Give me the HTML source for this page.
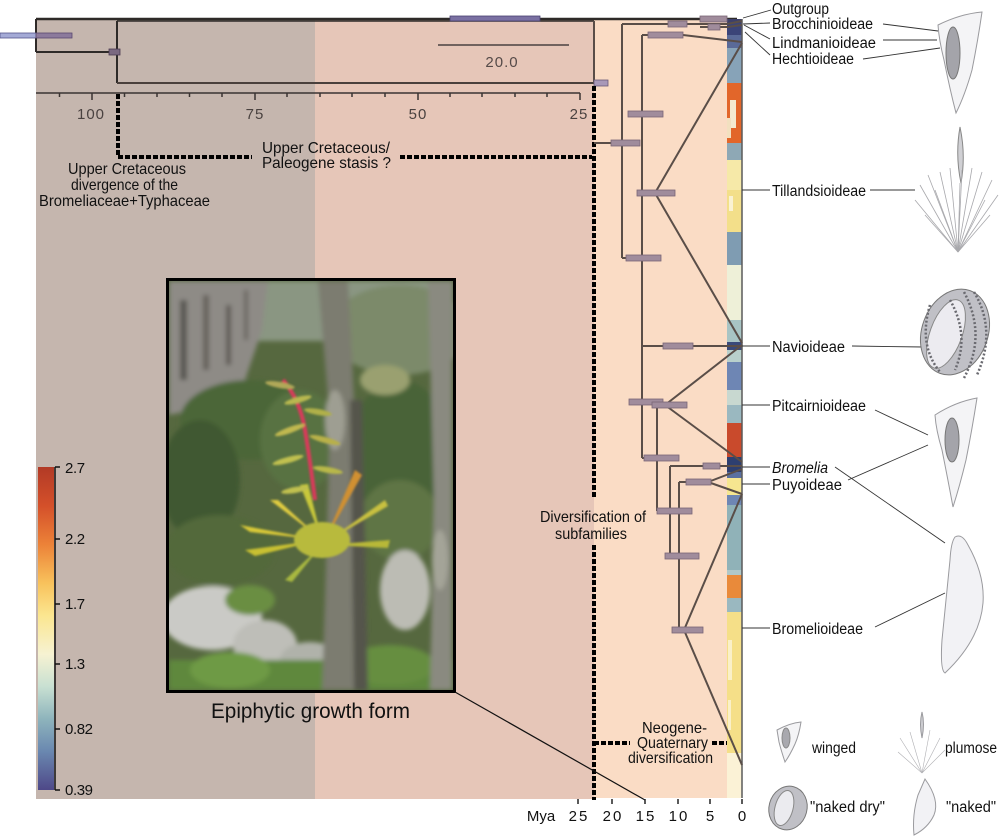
<!DOCTYPE html>
<html><head><meta charset="utf-8"><style>
html,body{margin:0;padding:0;background:#fff;}
svg{display:block;}
text{font-family:"Liberation Sans",Arial,sans-serif;}
</style></head><body>
<svg width="1000" height="837" viewBox="0 0 1000 837" xmlns="http://www.w3.org/2000/svg">
<defs>
<linearGradient id="cb" x1="0" y1="0" x2="0" y2="1">
<stop offset="0" stop-color="#b23a26"/>
<stop offset="0.12" stop-color="#d4502a"/>
<stop offset="0.24" stop-color="#ec8238"/>
<stop offset="0.36" stop-color="#f8c25c"/>
<stop offset="0.46" stop-color="#fbe690"/>
<stop offset="0.58" stop-color="#f6f2d2"/>
<stop offset="0.68" stop-color="#c8e0d2"/>
<stop offset="0.78" stop-color="#8eb4bc"/>
<stop offset="0.88" stop-color="#6a88b0"/>
<stop offset="1" stop-color="#4e4888"/>
</linearGradient>
<clipPath id="pc"><rect x="169" y="281" width="284" height="409"/></clipPath>
<filter id="bl" x="-10%" y="-10%" width="120%" height="120%"><feGaussianBlur stdDeviation="2.5"/></filter>
<filter id="bl2"><feGaussianBlur stdDeviation="1"/></filter>
</defs>

<!-- background panels -->
<rect x="36" y="19" width="279" height="780" fill="#c5b6ae"/>
<rect x="315" y="19" width="279" height="780" fill="#e6c6b8"/>
<rect x="594" y="19" width="133" height="779" fill="#fadcc5"/>

<!-- top tree frame -->
<g stroke="#2e2a28" fill="none">
<line x1="36" y1="19" x2="737" y2="19" stroke-width="2.5"/>
<line x1="36" y1="19" x2="36" y2="52" stroke-width="2"/>
<line x1="36" y1="52" x2="110" y2="52" stroke-width="2"/>
<line x1="117" y1="21" x2="594" y2="21" stroke-width="1.5"/>
<line x1="117" y1="21" x2="117" y2="83" stroke-width="2"/>
<line x1="117" y1="83" x2="594" y2="83" stroke-width="2" stroke="#4a403c"/>
<line x1="594" y1="21" x2="594" y2="83" stroke-width="2" stroke="#5a4e48"/>
</g>
<rect x="0" y="33" width="36" height="5" fill="#a4aad6" stroke="#56568c" stroke-width="0.8"/>
<rect x="36" y="33" width="36" height="5" fill="#8c7a9c" stroke="#5a4a70" stroke-width="0.8"/>
<rect x="109" y="49" width="11" height="6" fill="#7a6880" stroke="#4a3a50" stroke-width="0.8"/>
<rect x="450" y="16" width="90" height="5" fill="#7a70a2" stroke="#4a4270" stroke-width="0.8"/>
<rect x="594" y="80" width="14" height="6" fill="#a898b8" stroke="#6a5a78" stroke-width="0.8"/>

<!-- scale bar -->
<line x1="438" y1="45" x2="569" y2="45" stroke="#4a4040" stroke-width="1.5"/>
<text x="502" y="67" font-size="15" fill="#554a48" text-anchor="middle" letter-spacing="1">20.0</text>

<!-- top axis -->
<g stroke="#3a3432" stroke-width="1.5">
<line x1="36" y1="93" x2="580" y2="93"/>
<line x1="59.5" y1="93" x2="59.5" y2="97"/><line x1="92" y1="93" x2="92" y2="100"/>
<line x1="124.5" y1="93" x2="124.5" y2="97"/><line x1="157" y1="93" x2="157" y2="97"/>
<line x1="189.5" y1="93" x2="189.5" y2="97"/><line x1="222" y1="93" x2="222" y2="97"/>
<line x1="255" y1="93" x2="255" y2="100"/><line x1="287" y1="93" x2="287" y2="97"/>
<line x1="320" y1="93" x2="320" y2="97"/><line x1="352" y1="93" x2="352" y2="97"/>
<line x1="385" y1="93" x2="385" y2="97"/><line x1="418" y1="93" x2="418" y2="100"/>
<line x1="450" y1="93" x2="450" y2="97"/><line x1="482" y1="93" x2="482" y2="97"/>
<line x1="515" y1="93" x2="515" y2="97"/><line x1="547" y1="93" x2="547" y2="97"/>
<line x1="580" y1="93" x2="580" y2="100"/>
</g>
<g font-size="15" fill="#4a4240" text-anchor="middle" letter-spacing="1">
<text x="91" y="119">100</text><text x="255" y="119">75</text><text x="418" y="119">50</text><text x="579" y="119">25</text>
</g>

<!-- dotted lines -->
<g stroke="#000" stroke-width="4" fill="none" stroke-dasharray="5 2">
<path d="M118 94 V157 H252"/>
<line x1="400" y1="157" x2="592" y2="157"/>
<line x1="594" y1="86" x2="594" y2="498"/>
<line x1="594" y1="545" x2="594" y2="800"/>
<line x1="594" y1="743" x2="630" y2="743"/>
<line x1="712" y1="743" x2="742" y2="743"/>
</g>

<!-- left texts -->
<g font-size="16" fill="#111" lengthAdjust="spacingAndGlyphs">
<text x="68" y="174" textLength="118" lengthAdjust="spacingAndGlyphs">Upper Cretaceous</text>
<text x="71" y="190" textLength="107" lengthAdjust="spacingAndGlyphs">divergence of the</text>
<text x="39" y="206" textLength="171" lengthAdjust="spacingAndGlyphs">Bromeliaceae+Typhaceae</text>
<text x="262" y="153" textLength="128" lengthAdjust="spacingAndGlyphs">Upper Cretaceous/</text>
<text x="262" y="168" textLength="129" lengthAdjust="spacingAndGlyphs">Paleogene stasis ?</text>
</g>

<!-- color bar -->
<rect x="38" y="467" width="16" height="323" fill="url(#cb)"/>
<g stroke="#111" stroke-width="1.5">
<line x1="55" y1="467" x2="55" y2="790"/>
<line x1="55" y1="467" x2="60" y2="467"/><line x1="55" y1="539" x2="60" y2="539"/>
<line x1="55" y1="604" x2="60" y2="604"/><line x1="55" y1="664" x2="60" y2="664"/>
<line x1="55" y1="729" x2="60" y2="729"/><line x1="55" y1="790" x2="60" y2="790"/>
</g>
<g font-size="15" fill="#111" letter-spacing="-0.4">
<text x="65" y="473">2.7</text><text x="65" y="544">2.2</text><text x="65" y="609">1.7</text>
<text x="65" y="669">1.3</text><text x="65" y="734">0.82</text><text x="65" y="795">0.39</text>
</g>

<!-- photo -->
<g clip-path="url(#pc)">
<rect x="169" y="281" width="284" height="409" fill="#56683f"/>
<g filter="url(#bl)">
<rect x="169" y="281" width="284" height="60" fill="#8a9682"/>
<ellipse cx="400" cy="330" rx="70" ry="45" fill="#7c8a6a"/>
<path d="M169 281 H268 L262 330 L245 380 L215 405 L169 415 Z" fill="#8e8b86"/>
<rect x="180" y="300" width="7" height="80" fill="#5a5852"/>
<rect x="203" y="295" width="6" height="75" fill="#66625c"/>
<rect x="226" y="305" width="5" height="60" fill="#5e5a55"/>
<rect x="244" y="290" width="4" height="50" fill="#6a6660"/>
<ellipse cx="250" cy="420" rx="70" ry="40" fill="#4c6637"/>
<ellipse cx="200" cy="480" rx="40" ry="60" fill="#3f5830"/>
<ellipse cx="300" cy="440" rx="40" ry="50" fill="#587243"/>
<ellipse cx="400" cy="450" rx="50" ry="70" fill="#4a6338"/>
<ellipse cx="220" cy="550" rx="55" ry="35" fill="#52693a"/>
<ellipse cx="400" cy="520" rx="40" ry="40" fill="#5e7444"/>
<ellipse cx="212" cy="618" rx="50" ry="32" fill="#cacac6"/>
<ellipse cx="265" cy="645" rx="32" ry="25" fill="#bebeb8"/>
<ellipse cx="405" cy="590" rx="25" ry="40" fill="#bcbcb4"/>
<ellipse cx="310" cy="660" rx="30" ry="18" fill="#b0b2aa"/>
<rect x="169" y="660" width="284" height="30" fill="#5f883c"/>
<ellipse cx="230" cy="670" rx="40" ry="18" fill="#6e9a44"/>
<ellipse cx="390" cy="665" rx="45" ry="20" fill="#668e40"/>
<ellipse cx="250" cy="600" rx="25" ry="15" fill="#6a8e42"/>
<path d="M318 281 L348 281 L355 420 L360 600 L368 690 L322 690 L325 600 L330 420 Z" fill="#7c7b70"/>
<path d="M350 400 L362 400 L368 690 L354 690 Z" fill="#55544c"/>
<ellipse cx="335" cy="420" rx="10" ry="30" fill="#9e9e92"/>
<path d="M428 281 H452 V690 H430 L434 500 Z" fill="#8a8a80"/>
<ellipse cx="440" cy="560" rx="8" ry="30" fill="#a4a498"/>
<ellipse cx="385" cy="380" rx="25" ry="15" fill="#9aa070"/>
</g>
<g filter="url(#bl2)">
<path d="M320 540 L240 525 L250 532 Z" fill="#d8c838"/>
<path d="M320 540 L245 550 L255 556 Z" fill="#c8c030"/>
<path d="M322 540 L270 500 L278 500 Z" fill="#e0cc40"/>
<path d="M322 540 L300 485 L308 484 Z" fill="#c8c83a"/>
<path d="M325 540 L355 470 L362 475 Z" fill="#d09030"/>
<path d="M326 542 L385 500 L388 506 Z" fill="#c8c040"/>
<path d="M326 545 L390 540 L388 548 Z" fill="#b8b838"/>
<path d="M322 545 L285 580 L292 582 Z" fill="#a8b840"/>
<ellipse cx="322" cy="540" rx="28" ry="18" fill="#b8ba3c"/>
<path d="M283 380 Q300 400 305 430 Q310 460 315 500" stroke="#d83a5a" stroke-width="4" fill="none"/>
<ellipse cx="298" cy="400" rx="14" ry="3" fill="#b8b850" transform="rotate(-15 298 400)"/>
<ellipse cx="318" cy="412" rx="14" ry="3" fill="#b0b048" transform="rotate(10 318 412)"/>
<ellipse cx="290" cy="430" rx="16" ry="3" fill="#c0b850" transform="rotate(-20 290 430)"/>
<ellipse cx="325" cy="440" rx="16" ry="3" fill="#b8b048" transform="rotate(15 325 440)"/>
<ellipse cx="288" cy="460" rx="16" ry="3" fill="#c0c050" transform="rotate(-15 288 460)"/>
<ellipse cx="328" cy="470" rx="15" ry="3" fill="#b8b84a" transform="rotate(10 328 470)"/>
<ellipse cx="295" cy="490" rx="14" ry="3" fill="#c0c050" transform="rotate(-10 295 490)"/>
<ellipse cx="280" cy="385" rx="15" ry="3" fill="#b0a858" transform="rotate(10 280 385)"/>
</g>
</g>
<rect x="167.5" y="279.5" width="287" height="412" fill="none" stroke="#000" stroke-width="3"/>
<text x="211" y="718" font-size="21" fill="#111" textLength="199" lengthAdjust="spacingAndGlyphs">Epiphytic growth form</text>
<line x1="455" y1="692" x2="645" y2="800" stroke="#111" stroke-width="1.2"/>

<!-- color strip -->
<g>
<rect x="727" y="19" width="15" height="4" fill="#3c3f6a"/>
<rect x="727" y="23" width="15" height="12" fill="#3b4478"/>
<rect x="727" y="35" width="15" height="13" fill="#5a6a98"/>
<rect x="727" y="48" width="15" height="35" fill="#87a3b8"/>
<rect x="727" y="83" width="15" height="60" fill="#e2662a"/>
<rect x="730" y="100" width="6" height="28" fill="#f4ead0"/>
<rect x="727" y="118" width="4" height="20" fill="#f2e0c0"/>
<rect x="727" y="143" width="15" height="17" fill="#8ea8b5"/>
<rect x="727" y="160" width="15" height="30" fill="#f6e9a8"/>
<rect x="727" y="190" width="15" height="42" fill="#f3df8a"/>
<rect x="729" y="196" width="4" height="15" fill="#faf2d2"/>
<rect x="727" y="232" width="15" height="33" fill="#7f9cb2"/>
<rect x="727" y="265" width="15" height="55" fill="#eef0d8"/>
<rect x="727" y="320" width="15" height="22" fill="#a8c4c4"/>
<rect x="727" y="342" width="15" height="8" fill="#3a4a7a"/>
<rect x="727" y="350" width="15" height="12" fill="#b8d0cc"/>
<rect x="727" y="362" width="15" height="28" fill="#6e86b4"/>
<rect x="727" y="390" width="15" height="15" fill="#c8d8d0"/>
<rect x="727" y="405" width="15" height="18" fill="#9ab8c0"/>
<rect x="727" y="423" width="15" height="34" fill="#c94a2c"/>
<rect x="727" y="457" width="15" height="15" fill="#2e3f70"/>
<rect x="727" y="472" width="15" height="6" fill="#5a70a0"/>
<rect x="727" y="478" width="15" height="17" fill="#f6e690"/>
<rect x="727" y="495" width="15" height="10" fill="#6e86b4"/>
<rect x="727" y="505" width="15" height="65" fill="#90b2b8"/>
<rect x="727" y="570" width="15" height="5" fill="#b0c8c8"/>
<rect x="727" y="575" width="15" height="23" fill="#e98a3a"/>
<rect x="727" y="598" width="15" height="14" fill="#9ab8c0"/>
<rect x="727" y="612" width="15" height="141" fill="#f5df88"/>
<rect x="728" y="640" width="4" height="40" fill="#faf0c8"/>
<rect x="728" y="700" width="3" height="30" fill="#faf0c8"/>
<rect x="727" y="753" width="15" height="45" fill="#fbf2d6"/>
<line x1="742" y1="19" x2="742" y2="798" stroke="#5a5a5a" stroke-width="1.5"/>
</g>

<!-- tree lines -->
<g stroke="#5a4e48" stroke-width="2" fill="none">
<line x1="622" y1="24" x2="622" y2="258"/>
<line x1="622" y1="24" x2="727" y2="24"/>
<line x1="700" y1="27" x2="727" y2="27"/>
<line x1="727" y1="24" x2="742" y2="21"/>
<line x1="727" y1="27" x2="742" y2="25"/>
<line x1="642" y1="35" x2="642" y2="458"/>
<polyline points="642,35 683,35 742,42"/>
<line x1="594" y1="143" x2="622" y2="143"/>
<line x1="622" y1="258" x2="642" y2="258"/>
<polyline points="642,193 655,193 742,43"/>
<line x1="655" y1="193" x2="742" y2="343"/>
<line x1="642" y1="346" x2="742" y2="346"/>
<line x1="642" y1="402" x2="657" y2="402"/>
<polyline points="657,405 665,405 742,345"/>
<line x1="665" y1="405" x2="742" y2="462"/>
<line x1="657" y1="405" x2="657" y2="511"/>
<line x1="642" y1="458" x2="657" y2="458"/>
<line x1="657" y1="511" x2="670" y2="511"/>
<line x1="670" y1="466" x2="670" y2="556"/>
<line x1="670" y1="466" x2="742" y2="466"/>
<line x1="670" y1="556" x2="679" y2="556"/>
<line x1="679" y1="482" x2="679" y2="630"/>
<polyline points="679,482 708,482 742,469"/>
<line x1="708" y1="482" x2="742" y2="494"/>
<polyline points="679,630 684,630 742,494"/>
<line x1="684" y1="630" x2="742" y2="765"/>
</g>
<!-- bars -->
<g fill="#a08c9c" stroke="#7a6676" stroke-width="0.8">
<rect x="700" y="16" width="27" height="6"/>
<rect x="668" y="21" width="19" height="6"/>
<rect x="708" y="24" width="12" height="6"/>
<rect x="648" y="32" width="35" height="6"/>
<rect x="628" y="111" width="35" height="6"/>
<rect x="611" y="140" width="29" height="6"/>
<rect x="637" y="190" width="38" height="6"/>
<rect x="626" y="255" width="35" height="6"/>
<rect x="663" y="343" width="30" height="6"/>
<rect x="629" y="399" width="34" height="6"/>
<rect x="652" y="402" width="35" height="6"/>
<rect x="644" y="455" width="35" height="6"/>
<rect x="703" y="463" width="17" height="6"/>
<rect x="686" y="479" width="25" height="6"/>
<rect x="657" y="508" width="35" height="6"/>
<rect x="665" y="553" width="34" height="6"/>
<rect x="672" y="627" width="31" height="6"/>
</g>

<!-- tree texts -->
<g font-size="16" fill="#111">
<text x="540" y="522" textLength="106" lengthAdjust="spacingAndGlyphs">Diversification of</text>
<text x="555" y="539" textLength="72" lengthAdjust="spacingAndGlyphs">subfamilies</text>
<text x="642" y="733" textLength="65" lengthAdjust="spacingAndGlyphs">Neogene-</text>
<text x="637" y="748" textLength="71" lengthAdjust="spacingAndGlyphs">Quaternary</text>
<text x="628" y="763" textLength="85" lengthAdjust="spacingAndGlyphs">diversification</text>
</g>

<!-- bottom axis -->
<g stroke="#222" stroke-width="1.5">
<line x1="578" y1="799" x2="578" y2="804"/><line x1="612" y1="799" x2="612" y2="804"/>
<line x1="645" y1="799" x2="645" y2="804"/><line x1="678" y1="799" x2="678" y2="804"/>
<line x1="710" y1="799" x2="710" y2="804"/><line x1="742" y1="799" x2="742" y2="804"/>
</g>
<g font-size="15" fill="#111" text-anchor="middle" letter-spacing="2">
<text x="541" y="821" letter-spacing="0">Mya</text>
<text x="579" y="821">25</text><text x="613" y="821">20</text><text x="646" y="821">15</text>
<text x="679" y="821">10</text><text x="711" y="821">5</text><text x="743" y="821">0</text>
</g>

<!-- right labels -->
<g stroke="#333" stroke-width="0.9" fill="none">
<line x1="743" y1="18" x2="771" y2="10"/>
<line x1="743" y1="24" x2="770" y2="23"/>
<line x1="744" y1="25" x2="770" y2="39"/>
<line x1="745" y1="32" x2="770" y2="55"/>
<line x1="883" y1="24" x2="938" y2="31"/>
<line x1="883" y1="40" x2="937" y2="40"/>
<line x1="863" y1="59" x2="940" y2="48"/>
<line x1="742" y1="190" x2="770" y2="190"/>
<line x1="870" y1="190" x2="915" y2="190"/>
<line x1="742" y1="346" x2="770" y2="346"/>
<line x1="852" y1="346" x2="923" y2="347"/>
<line x1="742" y1="405" x2="770" y2="405"/>
<line x1="875" y1="410" x2="928" y2="435"/>
<line x1="742" y1="467" x2="770" y2="467"/>
<line x1="835" y1="467" x2="945" y2="543"/>
<line x1="742" y1="484" x2="770" y2="484"/>
<line x1="848" y1="480" x2="928" y2="445"/>
<line x1="742" y1="628" x2="770" y2="628"/>
<line x1="875" y1="627" x2="945" y2="593"/>
</g>
<g font-size="15.5" fill="#111">
<text x="772" y="14" textLength="57" lengthAdjust="spacingAndGlyphs">Outgroup</text>
<text x="772" y="29" textLength="101" lengthAdjust="spacingAndGlyphs">Brocchinioideae</text>
<text x="772" y="48" textLength="104" lengthAdjust="spacingAndGlyphs">Lindmanioideae</text>
<text x="772" y="64" textLength="82" lengthAdjust="spacingAndGlyphs">Hechtioideae</text>
<text x="772" y="196" textLength="94" lengthAdjust="spacingAndGlyphs">Tillandsioideae</text>
<text x="772" y="352" textLength="73" lengthAdjust="spacingAndGlyphs">Navioideae</text>
<text x="772" y="411" textLength="94" lengthAdjust="spacingAndGlyphs">Pitcairnioideae</text>
<text x="772" y="473" font-style="italic" textLength="56" lengthAdjust="spacingAndGlyphs">Bromelia</text>
<text x="772" y="490" textLength="70" lengthAdjust="spacingAndGlyphs">Puyoideae</text>
<text x="772" y="634" textLength="91" lengthAdjust="spacingAndGlyphs">Bromelioideae</text>
<text x="812" y="753" textLength="44" lengthAdjust="spacingAndGlyphs">winged</text>
<text x="945" y="753" textLength="52" lengthAdjust="spacingAndGlyphs">plumose</text>
<text x="810" y="812" textLength="75" lengthAdjust="spacingAndGlyphs">"naked dry"</text>
<text x="946" y="812" textLength="50" lengthAdjust="spacingAndGlyphs">"naked"</text>
</g>

<!-- seed drawings -->
<g stroke="#9a9a9e" stroke-width="1" fill="#f4f4f6">
<!-- winged 1 -->
<path d="M938 25 Q960 14 982 12 Q978 40 972 70 Q965 95 956 113 Q950 90 944 60 Q939 40 938 25 Z"/>
<ellipse cx="953" cy="53" rx="7" ry="26" fill="#a4a4aa" stroke="#777"/>
<!-- winged 2 -->
<path d="M935 415 Q955 402 977 398 Q972 430 966 460 Q960 485 953 507 Q948 480 942 450 Q936 430 935 415 Z"/>
<ellipse cx="952" cy="440" rx="7" ry="22" fill="#a4a4aa" stroke="#777"/>
<!-- naked -->
<path d="M955 537 Q962 533 968 545 Q985 575 983 603 Q980 640 945 673 Q940 670 942 640 Q947 590 950 560 Q951 542 955 537 Z" fill="#f2f2f5"/>
<!-- naked dry big -->
<ellipse cx="955" cy="332" rx="33" ry="44" fill="#c0c0c6" stroke="#777" transform="rotate(20 955 332)"/>
<ellipse cx="946" cy="334" rx="16" ry="36" fill="#ecebf0" stroke="#888" transform="rotate(20 946 334)"/>
<g stroke="#6a6a70" stroke-width="2.5" fill="none" stroke-dasharray="2 2">
<path d="M974 292 Q997 330 977 375"/>
<path d="M964 292 Q987 335 964 378"/>
<path d="M930 305 Q918 345 940 372"/>
<path d="M950 300 Q970 335 955 370"/>
</g>
<!-- plumose big -->
<path d="M960 127 Q966 155 961 183 Q955 155 960 127 Z" fill="#d0d0d4" stroke="#888"/>
<g stroke="#a8a8ac" stroke-width="0.8" fill="none">
<line x1="958" y1="252" x2="920" y2="185"/><line x1="958" y1="252" x2="928" y2="175"/>
<line x1="958" y1="252" x2="940" y2="172"/><line x1="958" y1="252" x2="950" y2="168"/>
<line x1="958" y1="252" x2="962" y2="170"/><line x1="958" y1="252" x2="972" y2="168"/>
<line x1="958" y1="252" x2="982" y2="172"/><line x1="958" y1="252" x2="992" y2="180"/>
<line x1="958" y1="252" x2="998" y2="195"/><line x1="958" y1="252" x2="915" y2="200"/>
<line x1="958" y1="252" x2="935" y2="190"/><line x1="958" y1="252" x2="985" y2="200"/>
<line x1="958" y1="252" x2="925" y2="215"/><line x1="958" y1="252" x2="990" y2="215"/>
<line x1="960" y1="183" x2="958" y2="252"/>
</g>
<!-- legend small -->
<path d="M777 730 Q790 723 801 722 Q799 735 795 744 Q790 755 785 762 Q781 750 779 742 Z"/>
<ellipse cx="786" cy="738" rx="4" ry="10" fill="#a8a8ae" stroke="#888"/>
<path d="M922 712 Q925 724 922 738 Q919 724 922 712 Z" fill="#d0d0d4"/>
<g stroke="#b0b0b4" stroke-width="0.6">
<line x1="922" y1="773" x2="900" y2="738"/><line x1="922" y1="773" x2="910" y2="732"/>
<line x1="922" y1="773" x2="930" y2="730"/><line x1="922" y1="773" x2="940" y2="738"/>
<line x1="922" y1="773" x2="945" y2="750"/><line x1="922" y1="773" x2="898" y2="752"/>
</g>
<ellipse cx="788" cy="808" rx="19" ry="22" fill="#c0c0c6" stroke="#777" transform="rotate(15 788 808)"/>
<ellipse cx="784" cy="808" rx="9" ry="18" fill="#ebebef" stroke="#888" transform="rotate(15 784 808)"/>
<path d="M925 779 Q940 800 934 815 Q928 828 914 835 Q912 815 918 795 Z" fill="#f2f2f5"/>
</g>
</svg>
</body></html>
